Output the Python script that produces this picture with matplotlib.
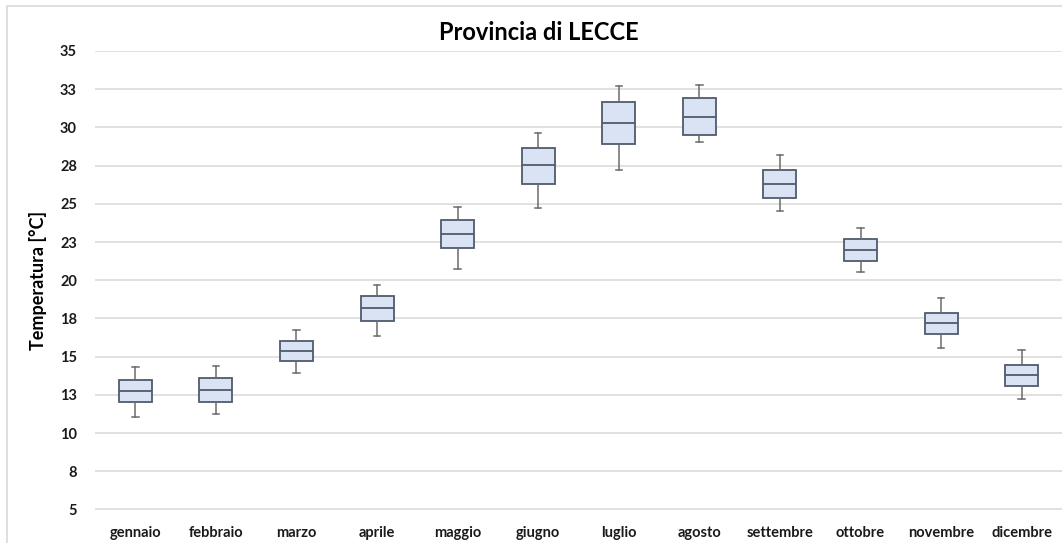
import matplotlib
matplotlib.use('Agg')
import matplotlib.pyplot as plt
from matplotlib.patches import Rectangle

plt.rcParams['font.family'] = ['Lato', 'DejaVu Sans']

mesi = ['gennaio', 'febbraio', 'marzo', 'aprile', 'maggio', 'giugno',
        'luglio', 'agosto', 'settembre', 'ottobre', 'novembre', 'dicembre']

# five-number summary per month (°C)
t_min = [11.06, 11.27, 13.91, 16.35, 20.73, 24.76, 27.24, 29.03, 24.54, 20.51, 15.59, 12.21]
q1 = [12.01, 12.04, 14.69, 17.35, 22.08, 26.31, 28.90, 29.49, 25.37, 21.27, 16.50, 13.08]
mediana = [12.76, 12.84, 15.35, 18.16, 23.04, 27.53, 30.27, 30.69, 26.29, 21.97, 17.18, 13.78]
q3 = [13.50, 13.58, 16.03, 18.94, 23.97, 28.68, 31.65, 31.93, 27.20, 22.67, 17.83, 14.46]
t_max = [14.33, 14.37, 16.76, 19.69, 24.78, 29.66, 32.73, 32.76, 28.22, 23.45, 18.81, 15.46]

yticks = [5, 7.5, 10, 12.5, 15, 17.5, 20, 22.5, 25, 27.5, 30, 32.5, 35]
ytick_labels = ['5', '8', '10', '13', '15', '18', '20', '23', '25', '28', '30', '33', '35']

W, H = 1062, 543
fig = plt.figure(figsize=(W / 100, H / 100), dpi=100)

# chart frame
fig.patches.append(Rectangle((7 / W, -0.1), 1.2, (H - 6.5) / H + 0.1,
                             transform=fig.transFigure, fill=False,
                             edgecolor='#d9d9d9', linewidth=1.2))

ax = fig.add_axes([95 / W, (H - 509.5) / H, (1062 - 95) / W, (509.5 - 51) / H])

stats = []
for i in range(len(mesi)):
    stats.append(dict(label=mesi[i], whislo=t_min[i], q1=q1[i], med=mediana[i],
                      q3=q3[i], whishi=t_max[i], fliers=[]))

ax.bxp(stats, positions=range(len(mesi)), widths=0.41, patch_artist=True,
       showfliers=False,
       boxprops=dict(facecolor='#dae3f3', edgecolor='#4f5b6e', linewidth=1.3),
       medianprops=dict(color='#4f5b6e', linewidth=1.3),
       whiskerprops=dict(color='#6b6b6b', linewidth=1.1),
       capprops=dict(color='#6b6b6b', linewidth=1.1),
       capwidths=0.08)

ax.set_xlim(-0.5, len(mesi) - 0.5)
ax.set_ylim(5, 35)
ax.set_yticks(yticks)
ax.set_yticklabels(ytick_labels)
ax.set_xticks(range(len(mesi)))
ax.set_xticklabels(mesi)
ax.grid(axis='y', color='#d9d9d9', linewidth=1.1)
ax.set_axisbelow(True)
for s in ax.spines.values():
    s.set_visible(False)
ax.tick_params(axis='both', length=0, labelsize=10.5, colors='#1a1a1a')
ax.tick_params(axis='y', pad=13)
ax.tick_params(axis='x', pad=12)
for lab in ax.get_xticklabels() + ax.get_yticklabels():
    lab.set_fontweight('bold')

ax.set_ylabel('Temperatura [°C]', fontsize=13, fontweight='bold', labelpad=9)
fig.text(539 / W, 1 - 33 / H, 'Provincia di LECCE', ha='center', va='center',
         fontsize=17, fontweight='bold')

fig.savefig('out.png', dpi=100)
